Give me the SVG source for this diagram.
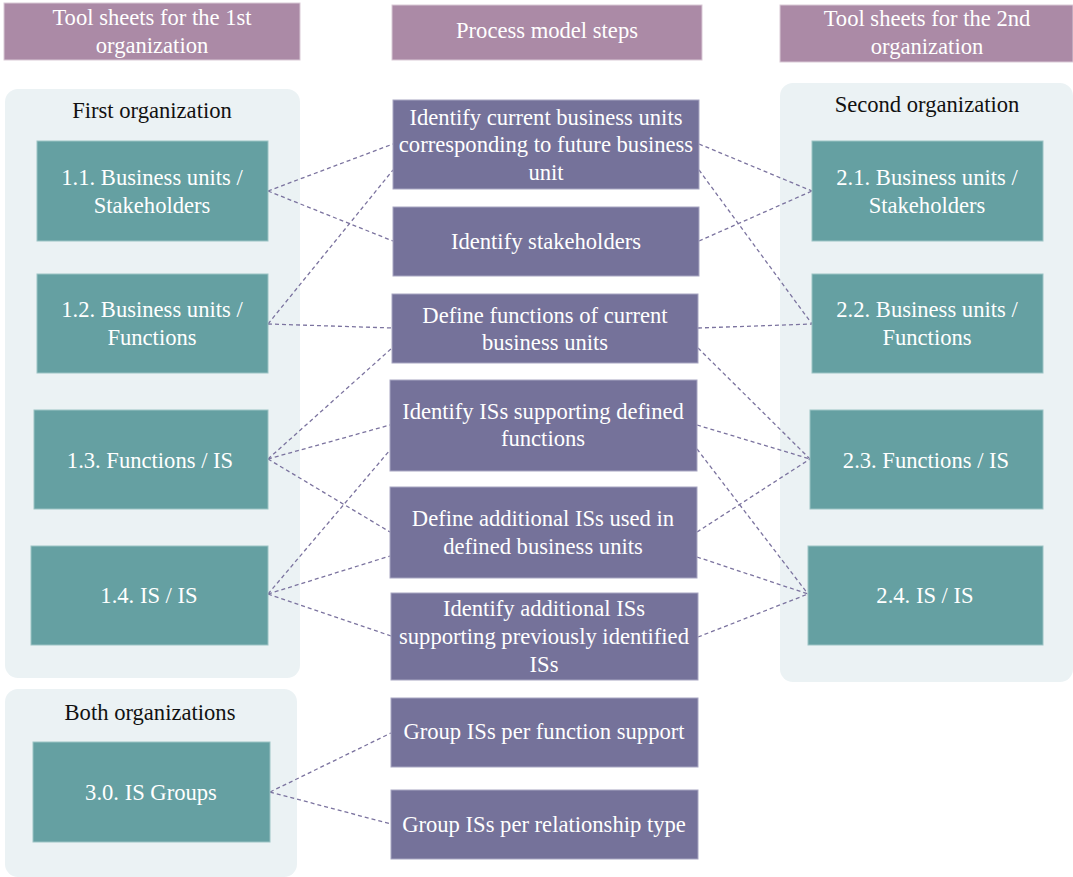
<svg xmlns="http://www.w3.org/2000/svg" width="1073" height="877" viewBox="0 0 1073 877">
  <style>
    text { font-family: "Liberation Serif", "Times New Roman", serif; font-size: 22.6px; text-anchor: middle; }
    .head rect { fill: #ab8aa6; stroke: #d9c9d6; stroke-width: 1; }
    .head text, .tool text, .step text { fill: #ffffff; }
    .panel { fill: #ebf2f4; }
    .panel-title { fill: #111111; }
    .tool rect { fill: #65a0a2; stroke: #9cc3c4; stroke-width: 1; }
    .step rect { fill: #75729a; stroke: #a8a6c2; stroke-width: 1; }
    #connectors line { stroke: #7b739f; stroke-width: 1.3; stroke-dasharray: 4 3; fill: none; }
  </style>

  <!-- column headers -->
  <g id="head-org1" class="head">
    <rect x="4" y="3" width="296" height="57"/>
    <text x="152" y="25">Tool sheets for the 1st</text>
    <text x="152" y="53">organization</text>
  </g>
  <g id="head-steps" class="head">
    <rect x="392" y="5" width="310" height="55"/>
    <text x="547" y="38">Process model steps</text>
  </g>
  <g id="head-org2" class="head">
    <rect x="780" y="5" width="293" height="57"/>
    <text x="927" y="26">Tool sheets for the 2nd</text>
    <text x="927" y="54">organization</text>
  </g>

  <!-- grouping panels -->
  <g id="panel-org1">
    <rect class="panel" x="5" y="89" width="295" height="589" rx="13"/>
    <text class="panel-title" x="152" y="118">First organization</text>
  </g>
  <g id="panel-org2">
    <rect class="panel" x="780" y="83" width="293" height="599" rx="13"/>
    <text class="panel-title" x="927" y="112">Second organization</text>
  </g>
  <g id="panel-both">
    <rect class="panel" x="5" y="689" width="292" height="188" rx="13"/>
    <text class="panel-title" x="150" y="720">Both organizations</text>
  </g>

  <!-- connectors -->
  <g id="connectors">
    <line x1="268" y1="191" x2="393" y2="144"/>
    <line x1="268" y1="191" x2="393" y2="241"/>
    <line x1="268" y1="324" x2="393" y2="170"/>
    <line x1="268" y1="324" x2="393" y2="328"/>
    <line x1="268" y1="459" x2="392" y2="348"/>
    <line x1="268" y1="459" x2="390" y2="425"/>
    <line x1="268" y1="459" x2="390" y2="532"/>
    <line x1="268" y1="594" x2="390" y2="450"/>
    <line x1="268" y1="594" x2="390" y2="556"/>
    <line x1="268" y1="594" x2="391" y2="636"/>
    <line x1="270" y1="792" x2="391" y2="733"/>
    <line x1="270" y1="792" x2="391" y2="824"/>

    <line x1="699" y1="144" x2="812" y2="191"/>
    <line x1="699" y1="170" x2="812" y2="324"/>
    <line x1="699" y1="241" x2="812" y2="191"/>
    <line x1="698" y1="328" x2="812" y2="324"/>
    <line x1="698" y1="348" x2="810" y2="459"/>
    <line x1="697" y1="425" x2="810" y2="459"/>
    <line x1="697" y1="449" x2="808" y2="594"/>
    <line x1="697" y1="532" x2="810" y2="459"/>
    <line x1="697" y1="557" x2="808" y2="594"/>
    <line x1="698" y1="637" x2="808" y2="594"/>
  </g>

  <!-- tool sheets, first organization -->
  <g id="t11" class="tool">
    <rect x="37" y="141" width="231" height="100"/>
    <text x="152" y="185">1.1. Business units /</text>
    <text x="152" y="213">Stakeholders</text>
  </g>
  <g id="t12" class="tool">
    <rect x="37" y="274" width="231" height="99"/>
    <text x="152" y="317">1.2. Business units /</text>
    <text x="152" y="345">Functions</text>
  </g>
  <g id="t13" class="tool">
    <rect x="34" y="410" width="234" height="99"/>
    <text x="150" y="468">1.3. Functions / IS</text>
  </g>
  <g id="t14" class="tool">
    <rect x="31" y="546" width="237" height="99"/>
    <text x="149" y="603">1.4. IS / IS</text>
  </g>

  <!-- tool sheet, both organizations -->
  <g id="t30" class="tool">
    <rect x="33" y="742" width="237" height="100"/>
    <text x="151" y="800">3.0. IS Groups</text>
  </g>

  <!-- tool sheets, second organization -->
  <g id="t21" class="tool">
    <rect x="812" y="141" width="231" height="100"/>
    <text x="927" y="185">2.1. Business units /</text>
    <text x="927" y="213">Stakeholders</text>
  </g>
  <g id="t22" class="tool">
    <rect x="812" y="274" width="231" height="99"/>
    <text x="927" y="317">2.2. Business units /</text>
    <text x="927" y="345">Functions</text>
  </g>
  <g id="t23" class="tool">
    <rect x="810" y="410" width="233" height="99"/>
    <text x="926" y="468">2.3. Functions / IS</text>
  </g>
  <g id="t24" class="tool">
    <rect x="808" y="546" width="235" height="99"/>
    <text x="925" y="603">2.4. IS / IS</text>
  </g>

  <!-- process model steps -->
  <g id="s1" class="step">
    <rect x="393" y="100" width="306" height="89"/>
    <text x="546" y="125">Identify current business units</text>
    <text x="546" y="152">corresponding to future business</text>
    <text x="546" y="180">unit</text>
  </g>
  <g id="s2" class="step">
    <rect x="393" y="207" width="306" height="69"/>
    <text x="546" y="249">Identify stakeholders</text>
  </g>
  <g id="s3" class="step">
    <rect x="392" y="294" width="306" height="69"/>
    <text x="545" y="323">Define functions of current</text>
    <text x="545" y="350">business units</text>
  </g>
  <g id="s4" class="step">
    <rect x="390" y="380" width="307" height="91"/>
    <text x="543" y="419">Identify ISs supporting defined</text>
    <text x="543" y="446">functions</text>
  </g>
  <g id="s5" class="step">
    <rect x="390" y="487" width="307" height="91"/>
    <text x="543" y="526">Define additional ISs used in</text>
    <text x="543" y="554">defined business units</text>
  </g>
  <g id="s6" class="step">
    <rect x="391" y="593" width="307" height="87"/>
    <text x="544" y="616">Identify additional ISs</text>
    <text x="544" y="644">supporting previously identified</text>
    <text x="544" y="672">ISs</text>
  </g>
  <g id="s7" class="step">
    <rect x="391" y="698" width="307" height="69"/>
    <text x="544" y="739">Group ISs per function support</text>
  </g>
  <g id="s8" class="step">
    <rect x="391" y="790" width="307" height="69"/>
    <text x="544" y="832">Group ISs per relationship type</text>
  </g>
</svg>
